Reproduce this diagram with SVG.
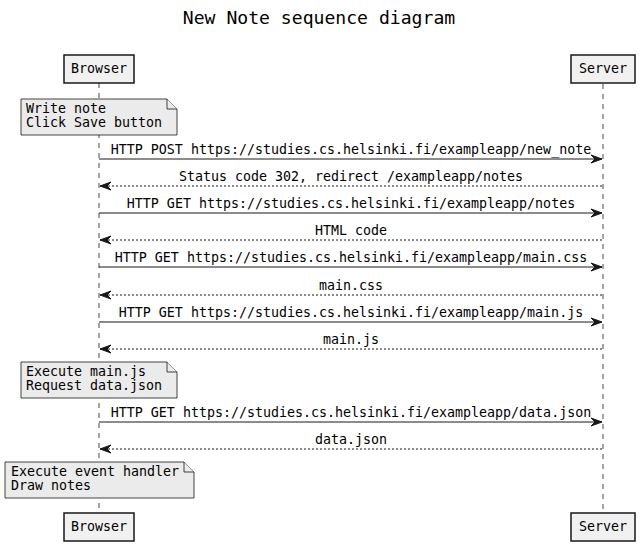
<svg xmlns="http://www.w3.org/2000/svg" width="639" height="546" viewBox="0 0 639 546">
<defs>
<style>
text{font-family:"DejaVu Sans Mono","Liberation Mono",monospace;font-size:13.3px;fill:#000}
.title{font-size:18.1px}
.c{text-anchor:middle}
.life{stroke:#181818;stroke-width:0.8;stroke-dasharray:5,5}
.part{fill:#F1F1F1;stroke:#181818;stroke-width:1.5}
.note{fill:#EBEBEB;stroke:#181818;stroke-width:0.8}
.msg{stroke:#181818;stroke-width:1;fill:none}
.ret{stroke:#181818;stroke-width:1;fill:none;stroke-dasharray:2,2}
.head{fill:#181818;stroke:#181818;stroke-width:1}
</style>
</defs>
<rect width="639" height="546" fill="#fff"/>
<text class="title c" x="319" y="24">New Note sequence diagram</text>
<g id="lifelines">
<line class="life" x1="99" y1="83" x2="99" y2="513"/>
<line class="life" x1="603" y1="84" x2="603" y2="513"/>
</g>
<g id="browser-top"><rect class="part" x="64" y="55" width="70" height="28"/><text class="c" x="99" y="73">Browser</text></g>
<g id="server-top"><rect class="part" x="571" y="55" width="64" height="28"/><text class="c" x="603" y="73">Server</text></g>
<g id="browser-bottom"><rect class="part" x="64" y="513" width="70" height="28"/><text class="c" x="99" y="531">Browser</text></g>
<g id="server-bottom"><rect class="part" x="571" y="513" width="64" height="28"/><text class="c" x="603" y="531">Server</text></g>
<g id="note1"><path class="note" d="M21,99 H167 L177,109 V135 H21 Z"/><path class="note" d="M167,99 V109 H177" fill="none"/><text x="26" y="113">Write note</text><text x="26" y="127">Click Save button</text></g>
<g id="note2"><path class="note" d="M21,362 H167 L177,372 V398 H21 Z"/><path class="note" d="M167,362 V372 H177" fill="none"/><text x="26" y="376">Execute main.js</text><text x="26" y="390">Request data.json</text></g>
<g id="note3"><path class="note" d="M5,462 H184 L194,472 V498 H5 Z"/><path class="note" d="M184,462 V472 H194" fill="none"/><text x="11" y="476">Execute event handler</text><text x="11" y="490">Draw notes</text></g>
<g id="connectors">
<line class="msg" x1="99" y1="159" x2="602" y2="159"/><polygon class="head" points="591,155 602,159 591,163 595,159"/>
<text class="c" x="351" y="154">HTTP POST https://studies.cs.helsinki.fi/exampleapp/new_note</text>
<line class="ret" x1="100" y1="186" x2="603" y2="186"/><polygon class="head" points="111,182 100,186 111,190 107,186"/>
<text class="c" x="351" y="181">Status code 302, redirect /exampleapp/notes</text>
<line class="msg" x1="99" y1="213" x2="602" y2="213"/><polygon class="head" points="591,209 602,213 591,217 595,213"/>
<text class="c" x="351" y="208">HTTP GET https://studies.cs.helsinki.fi/exampleapp/notes</text>
<line class="ret" x1="100" y1="240" x2="603" y2="240"/><polygon class="head" points="111,236 100,240 111,244 107,240"/>
<text class="c" x="351" y="235">HTML code</text>
<line class="msg" x1="99" y1="267" x2="602" y2="267"/><polygon class="head" points="591,263 602,267 591,271 595,267"/>
<text class="c" x="351" y="262">HTTP GET https://studies.cs.helsinki.fi/exampleapp/main.css</text>
<line class="ret" x1="100" y1="295" x2="603" y2="295"/><polygon class="head" points="111,291 100,295 111,299 107,295"/>
<text class="c" x="351" y="290">main.css</text>
<line class="msg" x1="99" y1="322" x2="602" y2="322"/><polygon class="head" points="591,318 602,322 591,326 595,322"/>
<text class="c" x="351" y="317">HTTP GET https://studies.cs.helsinki.fi/exampleapp/main.js</text>
<line class="ret" x1="100" y1="349" x2="603" y2="349"/><polygon class="head" points="111,345 100,349 111,353 107,349"/>
<text class="c" x="351" y="344">main.js</text>
<line class="msg" x1="99" y1="422" x2="602" y2="422"/><polygon class="head" points="591,418 602,422 591,426 595,422"/>
<text class="c" x="351" y="417">HTTP GET https://studies.cs.helsinki.fi/exampleapp/data.json</text>
<line class="ret" x1="100" y1="449" x2="603" y2="449"/><polygon class="head" points="111,445 100,449 111,453 107,449"/>
<text class="c" x="351" y="444">data.json</text>
</g>
</svg>
